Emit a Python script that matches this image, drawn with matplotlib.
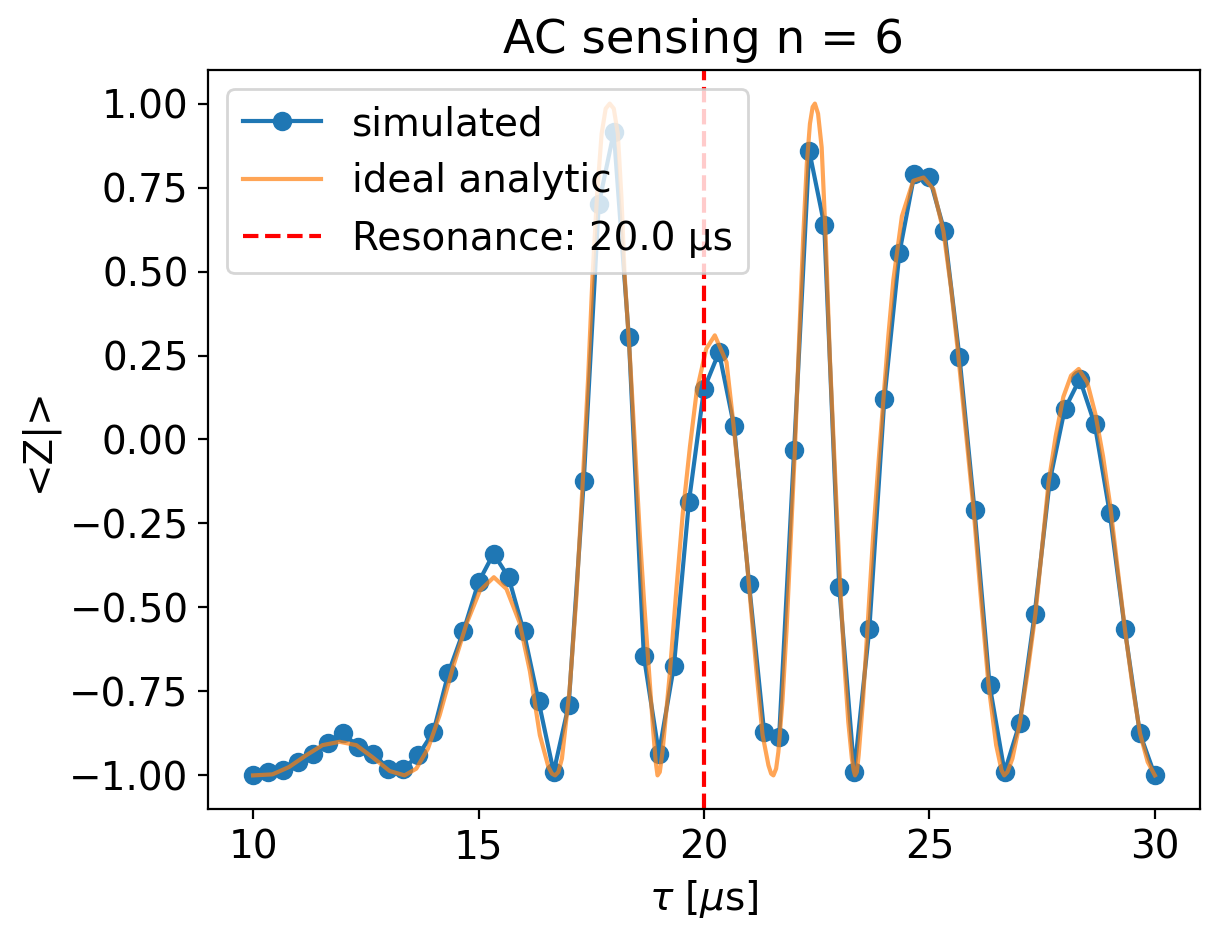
import matplotlib
matplotlib.use("Agg")
import matplotlib.pyplot as plt

plt.rcParams["font.size"] = 14

# Puntos simulados: tau de 10 a 30 us en pasos de 1/3
tau_sim = [10 + k / 3 for k in range(61)]
z_sim = [
    -1.00, -0.99, -0.985, -0.96, -0.935, -0.905, -0.875, -0.915, -0.935, -0.98,
    -0.98, -0.94, -0.87, -0.695, -0.57, -0.425, -0.34, -0.41, -0.57, -0.78,
    -0.99, -0.79, -0.125, 0.70, 0.915, 0.305, -0.645, -0.935, -0.675, -0.185,
    0.15, 0.26, 0.04, -0.43, -0.87, -0.885, -0.03, 0.86, 0.64, -0.44,
    -0.99, -0.565, 0.12, 0.555, 0.79, 0.78, 0.62, 0.245, -0.21, -0.73,
    -0.99, -0.845, -0.52, -0.125, 0.09, 0.18, 0.045, -0.22, -0.565, -0.875,
    -1.00,
]

# Curva analitica ideal
tau_ideal = [
    10.0, 10.43, 10.8, 11.18, 11.54, 11.92, 12.29, 12.65, 13.03, 13.36,
    13.62, 13.88, 14.14, 14.43, 14.73, 15.03, 15.34, 15.62, 15.91, 16.14,
    16.36, 16.55, 16.63, 16.7, 16.77, 16.85, 17.02, 17.17, 17.31, 17.43,
    17.53, 17.63, 17.73, 17.82, 17.91, 18.0, 18.09, 18.17, 18.24, 18.36,
    18.47, 18.58, 18.67, 18.76, 18.87, 18.93, 18.97, 19.02, 19.08, 19.24,
    19.38, 19.53, 19.69, 19.84, 20.05, 20.24, 20.5, 20.65, 20.8, 20.95,
    21.06, 21.17, 21.3, 21.43, 21.49, 21.54, 21.6, 21.65, 21.74, 21.83,
    21.92, 22.02, 22.11, 22.2, 22.28, 22.35, 22.41, 22.46, 22.53, 22.61,
    22.7, 22.79, 22.9, 23.02, 23.11, 23.2, 23.28, 23.32, 23.35, 23.39,
    23.43, 23.53, 23.64, 23.75, 23.87, 23.98, 24.09, 24.2, 24.39, 24.64,
    24.87, 25.09, 25.31, 25.48, 25.64, 25.81, 25.98, 26.14, 26.31, 26.48,
    26.6, 26.66, 26.73, 26.84, 27.01, 27.18, 27.35, 27.5, 27.64, 27.8,
    27.97, 28.14, 28.31, 28.5, 28.68, 28.85, 29.01, 29.17, 29.34, 29.5,
    29.67, 29.84, 30.0,
]
z_ideal = [
    -1.0, -0.997, -0.975, -0.94, -0.91, -0.90, -0.91, -0.946, -0.987, -1.0,
    -0.98, -0.92, -0.82, -0.68, -0.55, -0.45, -0.41, -0.445, -0.545, -0.69,
    -0.88, -0.975, -0.995, -1.0, -0.99, -0.95, -0.745, -0.47, -0.13, 0.18,
    0.49, 0.73, 0.91, 0.985, 1.0, 0.985, 0.91, 0.72, 0.49, 0.24,
    -0.02, -0.29, -0.48, -0.65, -0.86, -0.96, -1.0, -0.99, -0.93, -0.70,
    -0.46, -0.22, -0.02, 0.145, 0.27, 0.31, 0.23, 0.05, -0.15, -0.36,
    -0.53, -0.70, -0.88, -0.97, -0.995, -1.0, -0.98, -0.93, -0.78, -0.57,
    -0.31, -0.02, 0.30, 0.60, 0.82, 0.94, 0.99, 1.0, 0.97, 0.87,
    0.60, 0.25, -0.08, -0.43, -0.66, -0.84, -0.95, -0.985, -1.0, -0.99,
    -0.94, -0.77, -0.53, -0.29, -0.07, 0.12, 0.31, 0.475, 0.665, 0.77,
    0.78, 0.745, 0.62, 0.45, 0.25, 0.02, -0.21, -0.47, -0.73, -0.91,
    -0.985, -1.0, -0.99, -0.95, -0.84, -0.69, -0.52, -0.32, -0.13, 0.01,
    0.127, 0.19, 0.21, 0.17, 0.076, -0.05, -0.197, -0.38, -0.57, -0.73,
    -0.875, -0.96, -1.0,
]

resonance = 20.0

fig = plt.figure(figsize=(6.095, 4.705), dpi=200)
ax = fig.add_axes([0.1706, 0.1403, 0.8138, 0.7853])

ax.plot(tau_sim, z_sim, "o-", label="simulated")
ax.plot(tau_ideal, z_ideal, color="C1", alpha=0.7, label="ideal analytic")
ax.axvline(resonance, color="red", linestyle="--", label=f"Resonance: {resonance:.1f} μs")

ax.set_xlabel(r"$\tau$ [$\mu$s]")
ax.set_ylabel("<Z|>")
ax.set_title("AC sensing n = 6")
ax.legend(loc="upper left")

fig.savefig("out.png", dpi=200)
